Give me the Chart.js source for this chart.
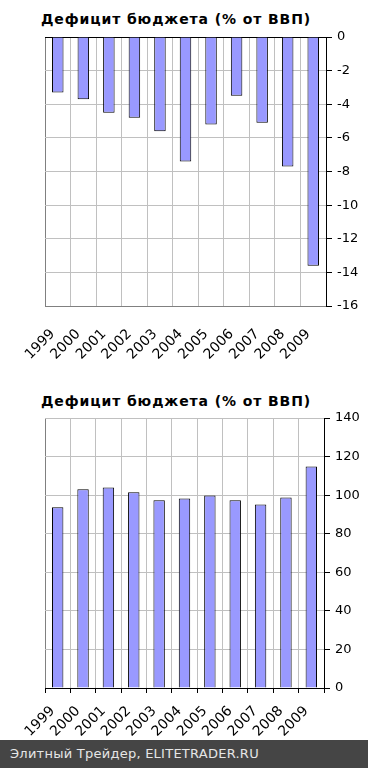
<!DOCTYPE html>
<html>
<head>
<meta charset="utf-8">
<script src="https://cdn.jsdelivr.net/npm/chart.js@4.4.1/dist/chart.umd.min.js"></script>
<style>
  body { margin: 0; width: 368px; height: 768px; background: #fff; position: relative; overflow: hidden; font-family: "DejaVu Sans", Verdana, sans-serif; }
  .box { position: absolute; left: 0; width: 368px; height: 360px; }
  .title { position: absolute; left: 0; width: 352px; text-align: center; font-weight: bold; font-size: 14px; letter-spacing: 0.9px; line-height: 18px; color: #000; }
  #footer { position: absolute; left: 0; top: 740px; width: 368px; height: 28px; background: #454545; color: #e6e6e6; font-size: 13px; letter-spacing: 0.25px; line-height: 28px; padding-left: 10px; box-sizing: border-box; }
</style>
</head>
<body>
<div class="title" style="top:10px">Дефицит бюджета (% от ВВП)</div>
<div class="box" style="top:0"><canvas id="deficitChart"></canvas></div>
<div class="title" style="top:392px">Дефицит бюджета (% от ВВП)</div>
<div class="box" style="top:380px"><canvas id="secondChart"></canvas></div>
<div id="footer">Элитный Трейдер, ELITETRADER.RU</div>

<script>
// years on the category axis (same for both charts)
const years = ['1999', '2000', '2001', '2002', '2003', '2004', '2005', '2006', '2007', '2008', '2009'];

// top chart: budget deficit, % of GDP
const deficitValues = [-3.3, -3.7, -4.5, -4.8, -5.6, -7.4, -5.2, -3.5, -5.1, -7.7, -13.6];
const deficitTicks = [-16, -14, -12, -10, -8, -6, -4, -2, 0];

// bottom chart
const secondValues = [93.7, 103.0, 104.0, 101.5, 97.3, 98.3, 99.8, 97.3, 95.2, 98.8, 114.9];
const secondTicks = [0, 20, 40, 60, 80, 100, 120, 140];

const GRID = '#c0c0c0';
const EDGE = '#808080';
const FONT = { family: 'DejaVu Sans', size: 13 };

function makeChart(canvas, values, ticks, isTop) {
    let yMin = ticks[0];
    let yMax = ticks[ticks.length - 1];
    // the line where the category axis sits: 0 on top for the deficit chart, 0 at the bottom otherwise
    let axisValue = isTop ? yMax : yMin;
    let farValue = isTop ? yMin : yMax;

    return new Chart(canvas, {
        type: 'bar',
        data: {
            labels: years,
            datasets: [{
                data: values,
                backgroundColor: '#9999ff',
                borderColor: '#000',
                borderWidth: 1,
                barPercentage: 0.45,
                categoryPercentage: 1.0
            }]
        },
        options: {
            responsive: true,
            maintainAspectRatio: false,
            animation: false,
            events: [],
            layout: { padding: { left: 45, right: 0, top: isTop ? 37 : 38, bottom: 0 } },
            plugins: { legend: { display: false }, tooltip: { enabled: false } },
            scales: {
                x: {
                    offset: true,
                    grid: {
                        offset: true,
                        color: (ctx) => ctx.index === 0 ? EDGE : GRID,
                        drawTicks: !isTop,
                        tickLength: 5,
                        tickColor: '#000'
                    },
                    border: { color: isTop ? EDGE : '#000' },
                    ticks: {
                        autoSkip: false,
                        minRotation: 45,
                        maxRotation: 45,
                        padding: isTop ? 20 : 10,
                        labelOffset: -5,
                        color: '#000',
                        font: { family: 'DejaVu Sans', size: 14 }
                    },
                    afterFit: (scale) => { scale.height = isTop ? 54 : 52; }
                },
                y: {
                    position: 'right',
                    min: yMin,
                    max: yMax,
                    grid: {
                        color: (ctx) => {
                            if (!ctx.tick) return GRID;
                            if (ctx.tick.value === axisValue) return '#000';
                            if (ctx.tick.value === farValue && isTop) return EDGE;
                            return GRID;
                        },
                        tickLength: 6,
                        tickColor: '#000'
                    },
                    border: { color: '#000' },
                    afterBuildTicks: (scale) => { scale.ticks = ticks.map(v => ({ value: v })); },
                    ticks: {
                        padding: 5,
                        color: '#000',
                        font: FONT
                    },
                    afterFit: (scale) => { scale.width = isTop ? 42 : 44; }
                }
            }
        }
    });
}

makeChart(document.getElementById('deficitChart'), deficitValues, deficitTicks, true);
makeChart(document.getElementById('secondChart'), secondValues, secondTicks, false);
</script>
</body>
</html>
